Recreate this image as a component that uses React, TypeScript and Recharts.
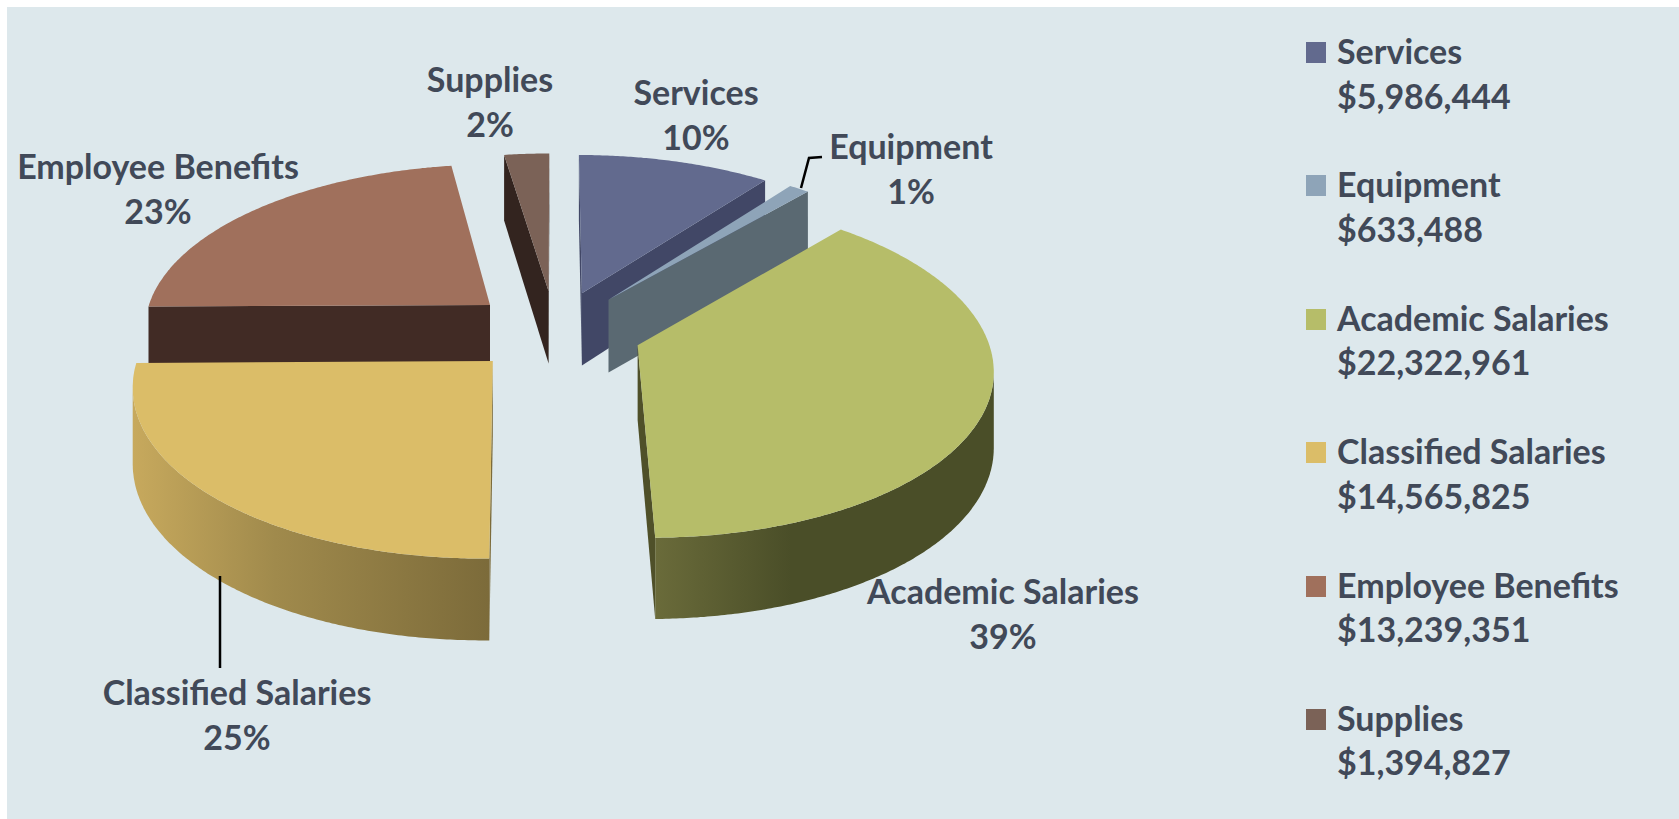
import React from "react";
import { PieChart, Pie, Legend } from "recharts";

const categories = ["Services", "Equipment", "Academic Salaries", "Classified Salaries", "Employee Benefits", "Supplies"];
const amounts = [5986444, 633488, 22322961, 14565825, 13239351, 1394827];
const amountLabels = ["$5,986,444", "$633,488", "$22,322,961", "$14,565,825", "$13,239,351", "$1,394,827"];
const percentLabels = ["10%", "1%", "39%", "25%", "23%", "2%"];

// painter's order: the back slices go first, and the order still runs round the pie
const drawOrder = [4, 5, 0, 1, 2, 3];

const topColors = ["#626a8e", "#8ea4b8", "#b6bd69", "#dbbd68", "#a0705c", "#7b6257"];
const cutColors = ["#414766", "#5a6972", "#4f5029", "#7c6b3a", "#412b25", "#33241f"];
const rimFrom = ["#414766", "#5a6972", "#6a6b3a", "#c7a95d", "#412b25", "#33241f"];
const rimMid = ["#414766", "#5a6972", "#4a4e28", "#a08a4c", "#412b25", "#33241f"];
const rimTo = ["#414766", "#5a6972", "#4a4e28", "#7c6b3a", "#412b25", "#33241f"];

const TEXT = "#414958";
const FONT = "Lato, sans-serif";
const FONT_SIZE = 34;

// fake 3D, the look of the old office chart
const TILT = 0.4724;
const PERSPECTIVE = 0.1257;
const EXPLODE = 0.25;
const DEPTH = 74;

const total = amounts.reduce((a, b) => a + b, 0);
const before = amounts.slice(0, drawOrder[0]).reduce((a, b) => a + b, 0);
const startAngle = 90 - (before / total) * 360;

const pieData = drawOrder.map((i) => ({
  name: categories[i],
  value: amounts[i],
  fill: topColors[i],
}));

// label centre x, first baseline y
const labelSpots: Record<string, [number, number]> = {
  Services: [696, 105],
  Equipment: [911, 159],
  "Academic Salaries": [1003, 604],
  "Classified Salaries": [237, 705],
  "Employee Benefits": [158, 179],
  Supplies: [490, 92],
};
const leaders: Record<string, string> = {
  Equipment: "M801 188 L809 158 L822 157",
  "Classified Salaries": "M220 576 L220 668",
};

const Slice3D = (props: any) => {
  const { cx, cy, outerRadius: r, startAngle: s, endAngle: e, name } = props;
  const i = categories.indexOf(name);
  const mid = (s + e) / 2;
  const ax = EXPLODE * Math.cos((mid * Math.PI) / 180);
  const ay = -EXPLODE * Math.sin((mid * Math.PI) / 180);

  const project = (X: number, Y: number) => {
    const w = 1 / (1 - PERSPECTIVE * Y);
    return { x: cx + r * X * w, y: cy + r * TILT * Y * w, d: DEPTH * (1 + 0.09 * Y) };
  };
  const apex = project(ax, ay);
  const steps = Math.max(2, Math.ceil(Math.abs(s - e) * 2));
  const rim = [];
  for (let k = 0; k <= steps; k++) {
    const deg = s + ((e - s) * k) / steps;
    const rad = (deg * Math.PI) / 180;
    rim.push(project(ax + Math.cos(rad), ay - Math.sin(rad)));
  }
  const poly = (pts: { x: number; y: number }[]) =>
    "M" + pts.map((p) => `${p.x.toFixed(1)} ${p.y.toFixed(1)}`).join("L") + "Z";
  const wall = (pts: { x: number; y: number; d: number }[]) =>
    poly([...pts, ...[...pts].reverse().map((p) => ({ x: p.x, y: p.y + p.d, d: 0 }))]);

  // only walls running leftwards on screen face the viewer
  const runs: (typeof rim)[] = [];
  let run: typeof rim = [];
  for (let k = 1; k < rim.length; k++) {
    if (rim[k].x < rim[k - 1].x) {
      if (!run.length) run.push(rim[k - 1]);
      run.push(rim[k]);
    } else if (run.length) {
      runs.push(run);
      run = [];
    }
  }
  if (run.length) runs.push(run);

  const first = rim[0];
  const last = rim[rim.length - 1];
  const xs = rim.map((p) => p.x);
  const gradId = `rim-${i}`;

  return (
    <g>
      <defs>
        <linearGradient id={gradId} gradientUnits="userSpaceOnUse" x1={Math.min(...xs)} x2={Math.max(...xs)} y1={0} y2={0}>
          <stop offset="0" stopColor={rimFrom[i]} />
          <stop offset="0.4" stopColor={rimMid[i]} />
          <stop offset="1" stopColor={rimTo[i]} />
        </linearGradient>
      </defs>
      {first.x < apex.x && <path d={wall([apex, first])} fill={cutColors[i]} />}
      {apex.x < last.x && <path d={wall([last, apex])} fill={cutColors[i]} />}
      {runs.map((pts, k) => (
        <path key={k} d={wall(pts)} fill={`url(#${gradId})`} />
      ))}
      <path d={poly([apex, ...rim])} fill={topColors[i]} />
    </g>
  );
};

const SliceLabel = (props: any) => {
  const name = props.name;
  const [x, y] = labelSpots[name];
  const i = categories.indexOf(name);
  return (
    <g>
      {leaders[name] && <path d={leaders[name]} fill="none" stroke="#000" strokeWidth={2.5} />}
      <text x={x} y={y} textAnchor="middle" fill={TEXT} fontFamily={FONT} fontWeight={700} fontSize={FONT_SIZE}>
        {name}
      </text>
      <text x={x} y={y + 45} textAnchor="middle" fill={TEXT} fontFamily={FONT} fontWeight={700} fontSize={FONT_SIZE}>
        {percentLabels[i]}
      </text>
    </g>
  );
};

const LegendList = () => (
  <div style={{ fontFamily: FONT, fontWeight: 700, fontSize: FONT_SIZE, color: TEXT }}>
    {categories.map((name, i) => (
      <div key={name} style={{ position: "relative", height: 133.4, paddingLeft: 31, lineHeight: "44.5px", whiteSpace: "nowrap" }}>
        <span style={{ position: "absolute", left: 0, top: 13, width: 20, height: 21, background: topColors[i] }} />
        <div>{name}</div>
        <div>{amountLabels[i]}</div>
      </div>
    ))}
  </div>
);

export default function App() {
  return (
    <div style={{ position: "absolute", left: 0, top: 0, width: 1679, height: 819, overflow: "hidden", background: "#fff" }}>
      <div style={{ position: "absolute", left: 7, top: 7, right: 0, bottom: 0, background: "#dde8ec" }} />
      <PieChart width={1679} height={819} margin={{ top: 0, right: 0, bottom: 0, left: 0 }} style={{ position: "absolute", left: 0, top: 0 }}>
        <Pie
          data={pieData}
          dataKey="value"
          nameKey="name"
          cx={555}
          cy={331}
          outerRadius={348}
          startAngle={startAngle}
          endAngle={startAngle - 360}
          paddingAngle={0}
          shape={Slice3D}
          label={SliceLabel}
          labelLine={false}
          isAnimationActive={false}
        />
        <Legend
          layout="vertical"
          align="right"
          verticalAlign="middle"
          content={LegendList}
          wrapperStyle={{ position: "absolute", left: 1306, top: 29, width: 360 }}
        />
      </PieChart>
    </div>
  );
}
